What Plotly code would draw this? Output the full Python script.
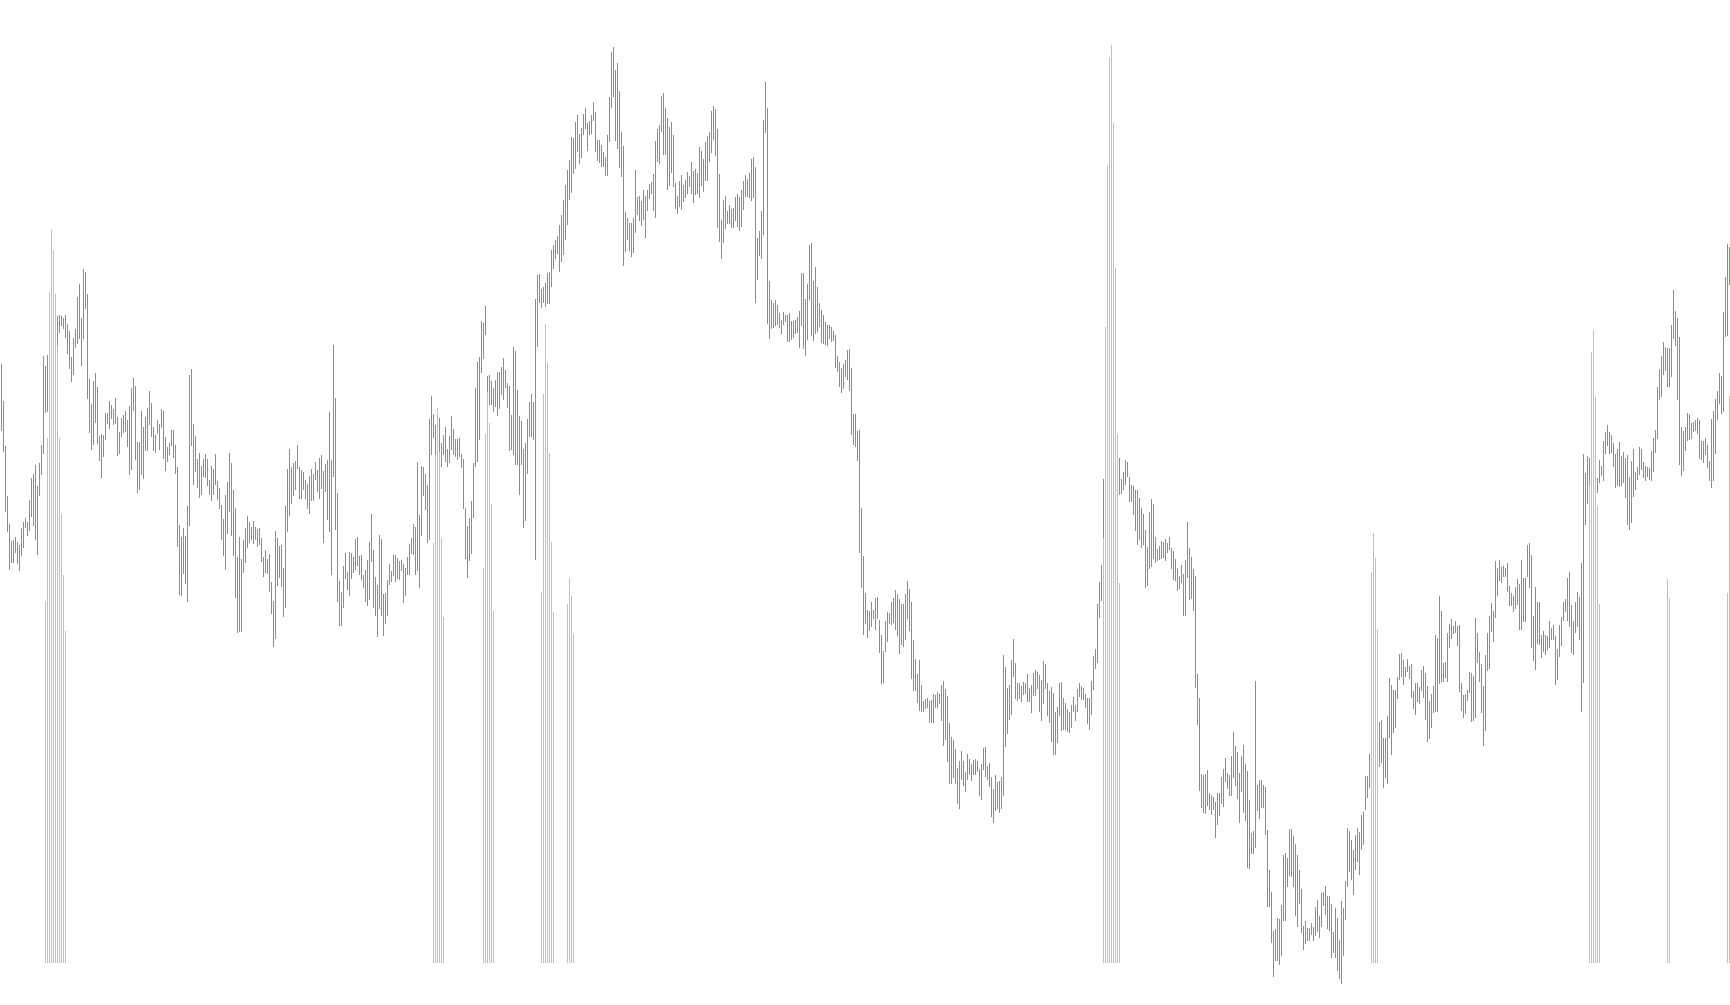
import plotly.graph_objects as go

# Bar range values (vertical scale runs downward: smaller number = higher on chart)
upper = [
364,401,446,496,524,541,540,537,542,545,528,522,518,522,500,478,474,465,486,463,
445,356,366,355,340,320,310,320,316,315,316,318,315,324,331,357,338,329,297,284,
318,269,272,294,379,404,381,373,387,436,434,435,413,413,401,405,409,398,417,432,
418,415,411,420,406,388,378,386,442,442,411,427,417,408,391,403,427,435,420,424,
409,411,437,447,443,430,430,445,467,525,537,528,536,506,375,369,424,436,459,453,
466,459,454,459,480,466,469,454,481,488,505,519,495,482,453,463,490,508,557,537,
559,540,528,516,522,527,521,527,529,528,538,557,550,559,554,582,601,531,538,546,
545,568,506,469,449,467,463,461,445,467,470,472,480,484,476,469,474,462,470,458,
455,471,464,460,412,460,345,398,493,581,592,566,553,572,552,553,557,539,537,556,
555,575,570,560,542,514,550,577,585,535,539,594,593,580,564,571,555,555,558,561,
560,564,568,557,544,538,524,527,462,515,466,467,474,485,419,396,414,425,420,418,
443,435,427,449,436,416,429,439,439,438,454,459,508,526,518,501,463,388,362,357,
321,323,306,376,375,381,388,380,372,372,367,358,370,383,386,415,347,351,390,416,
421,449,443,419,402,394,402,299,275,274,289,287,283,273,272,250,245,240,236,225,
215,200,185,170,160,137,138,122,115,134,128,114,108,123,121,115,102,112,140,140,
145,152,157,135,97,52,47,70,63,91,132,146,212,218,223,223,218,170,197,196,
201,190,196,190,184,182,174,141,129,125,96,93,108,118,127,122,135,183,196,181,
175,185,180,172,176,162,171,169,173,147,151,159,142,136,132,111,106,109,129,174,
220,200,196,211,205,209,208,197,194,197,190,181,175,179,173,159,157,167,238,231,
211,120,82,108,281,300,303,300,305,313,320,312,315,315,313,321,321,320,317,311,
273,273,299,284,245,243,281,267,287,303,310,315,322,325,325,327,331,335,356,362,
368,364,360,350,349,368,414,414,431,430,508,556,593,610,611,602,610,598,597,620,
635,651,621,612,613,602,598,590,594,599,604,604,594,581,589,602,640,659,674,660,
685,701,699,698,701,700,694,695,692,694,685,681,689,696,723,737,740,749,768,761,
751,761,772,754,759,764,760,759,761,769,764,748,747,766,763,777,789,775,782,781,
777,655,667,688,685,660,639,663,683,683,686,682,683,674,688,685,673,670,672,675,
680,661,664,683,691,687,693,712,707,683,682,698,703,709,712,705,697,705,689,683,
686,688,694,698,698,681,656,649,604,582,565,479,480,480,480,480,480,475,470,458,
479,472,460,462,477,485,486,490,490,498,508,514,530,547,512,499,504,537,549,546,
541,542,539,543,537,548,551,559,568,576,565,574,560,522,548,557,569,576,674,698,
774,775,774,770,793,795,797,802,793,793,777,769,758,773,775,756,732,746,752,773,
756,745,764,771,800,833,831,681,785,780,780,785,787,830,870,892,931,929,918,919,
905,855,853,858,829,829,836,844,855,870,889,926,921,928,928,923,927,907,900,916,
893,892,886,896,896,904,932,908,918,940,901,908,881,828,831,840,850,835,828,832,
815,812,776,776,754,740,730,725,730,722,720,738,738,716,678,685,690,690,677,654,
653,660,667,659,666,664,691,683,683,687,670,666,673,686,701,694,686,635,638,596,
611,663,662,633,624,619,626,621,626,625,683,695,694,690,672,673,676,618,633,652,
664,686,655,633,616,603,611,561,568,560,567,566,568,563,586,593,596,587,579,584,
560,578,578,545,543,555,616,587,602,602,635,631,635,636,621,628,625,636,649,625,
617,602,599,578,572,605,621,602,592,597,563,454,473,456,458,460,460,460,478,460,
466,441,432,425,432,435,443,454,449,442,456,452,458,455,477,461,449,472,467,447,
449,462,466,467,468,451,438,430,387,369,356,342,347,348,348,325,290,311,318,337,
427,431,427,413,414,423,422,420,418,420,441,441,438,445,461,419,411,399,391,373,
376,312,277,244,247,
]

lower = [
431,452,512,532,570,563,563,553,564,571,556,548,528,536,531,517,526,540,555,496,
475,454,413,412,400,390,380,370,345,333,326,329,338,354,369,382,375,348,344,339,
366,339,309,399,433,450,445,423,444,461,478,457,440,424,429,419,425,424,456,454,
437,433,432,447,475,470,411,460,493,490,475,479,451,451,425,437,451,453,434,450,
428,459,471,462,455,446,458,474,547,595,596,574,584,602,526,446,485,472,488,498,
495,477,478,486,495,501,495,485,500,509,540,556,570,534,512,536,556,598,633,632,
632,573,563,548,543,540,544,540,547,545,562,577,573,574,592,614,647,639,586,578,
587,617,608,532,516,504,496,490,469,499,499,490,499,509,514,501,501,480,492,499,
489,543,492,520,532,575,477,530,602,626,626,608,579,590,596,579,573,570,566,575,
580,588,602,606,600,562,608,616,637,609,616,636,624,616,585,582,576,582,579,580,
571,603,596,575,575,554,555,575,571,588,536,496,510,543,540,455,438,465,465,452,
467,455,462,467,463,450,455,457,460,457,468,509,559,578,561,554,518,467,462,440,
373,359,335,395,405,405,412,407,416,409,395,400,388,408,451,450,455,465,465,495,
465,528,521,474,437,437,440,560,347,303,308,303,307,304,304,287,269,259,254,272,
262,255,240,225,200,193,174,169,152,164,158,135,129,151,135,134,121,152,161,163,
167,167,176,176,142,108,97,141,149,168,177,266,252,240,251,257,253,233,215,221,
226,220,238,211,199,194,211,218,162,164,132,155,155,190,186,173,187,209,214,207,
210,202,198,194,187,194,203,195,194,198,186,192,181,181,162,153,140,156,228,242,
259,243,229,224,224,228,228,221,227,231,227,210,197,197,198,201,198,303,280,256,
259,235,133,324,339,329,328,326,325,328,334,325,322,342,342,340,338,334,333,348,
326,349,356,340,300,336,341,334,332,327,343,344,345,346,339,342,341,368,372,387,
393,389,377,380,391,435,445,447,461,553,588,635,624,638,631,627,619,630,619,653,
684,683,652,642,624,625,623,630,636,654,645,647,640,619,631,679,691,691,703,711,
712,712,709,708,723,723,723,708,708,704,721,746,740,762,784,784,778,784,804,809,
780,786,792,780,775,781,775,775,772,796,800,770,777,780,787,817,823,811,809,813,
809,796,747,734,720,715,677,699,701,699,702,695,694,702,702,713,696,696,689,712,
721,704,689,716,723,742,755,755,743,716,731,730,730,732,733,728,712,721,712,697,
700,700,708,724,730,715,690,669,663,618,601,538,530,530,530,530,530,530,520,495,
494,490,485,477,502,502,515,531,545,540,548,545,588,586,569,567,559,563,561,560,
559,558,561,553,550,569,580,581,591,589,583,616,616,578,600,599,611,688,725,791,
808,813,814,806,810,815,810,838,825,816,804,807,782,789,796,796,778,786,799,823,
792,813,821,868,869,854,854,848,811,819,808,808,835,907,907,943,977,961,961,965,
956,921,921,887,876,877,887,916,927,904,933,950,944,941,941,935,941,936,932,938,
927,906,915,929,931,958,953,958,971,979,984,956,920,887,872,880,895,870,862,875,
850,845,810,798,788,780,775,770,770,767,763,788,778,784,738,755,733,728,699,680,
677,685,677,672,679,698,709,715,702,704,691,698,720,742,739,728,713,712,712,684,
682,682,678,682,648,639,634,633,646,692,711,718,714,701,693,722,721,718,663,682,
713,746,731,671,669,632,642,618,596,581,583,577,577,592,606,606,612,609,605,630,
630,622,622,577,588,648,661,670,644,645,658,652,655,650,648,640,640,685,680,657,
646,621,612,621,627,653,655,633,627,640,712,683,525,504,485,490,490,490,493,483,
476,481,454,446,454,453,467,488,486,487,486,483,498,525,530,523,497,490,480,475,
470,478,481,477,480,481,472,453,439,400,397,375,371,387,387,377,339,346,400,465,
476,471,451,441,440,439,432,431,434,459,460,463,455,468,481,488,481,454,420,404,
414,412,337,336,285,
]

# Histogram (yellow) bars: bar index and level, rising from the zero level
hist_index = [22,23,24,25,26,27,28,29,30,31,32,
              216,217,218,219,220,221,
              241,242,243,244,245,246,
              270,271,272,273,274,275,276,
              283,284,285,286,
              551,552,553,554,555,556,557,558,559,
              685,686,687,688,
              794,795,796,797,798,799,
              833,834,863,864]
hist_level = [601,438,293,230,250,294,345,438,514,575,631,
              543,454,408,452,538,617,
              568,434,392,423,504,611,
              592,394,324,363,453,542,612,
              604,578,596,634,
              538,327,165,57,45,123,268,434,583,
              572,533,558,630,
              485,352,330,397,506,604,
              579,598,593,396]
hist_zero = 963

n = len(upper)
gx, gy = [], []
for i in range(n):
    gx += [i, i, None]
    gy += [upper[i], lower[i], None]

yx, yy = [], []
for i, v in zip(hist_index, hist_level):
    yx += [i, i, None]
    yy += [hist_zero, v, None]

fig = go.Figure()
fig.add_trace(go.Scatter(x=gx, y=gy, mode="lines",
                         line=dict(color="#00ee00", width=1),
                         hoverinfo="skip", showlegend=False))
fig.add_trace(go.Scatter(x=yx, y=yy, mode="lines",
                         line=dict(color="#f5c810", width=1),
                         hoverinfo="skip", showlegend=False))

fig.update_layout(
    width=1730, height=1005,
    margin=dict(l=0, r=0, t=0, b=0),
    paper_bgcolor="white", plot_bgcolor="white",
    xaxis=dict(visible=False, range=[-0.75, n - 0.75]),
    yaxis=dict(visible=False, range=[1005, 0]),
    hovermode=False,
    showlegend=False,
)

post = (
    "document.body.style.margin='0';"
    "document.body.style.overflow='hidden';"
    "document.querySelectorAll('.scatterlayer path').forEach(function(p){"
    "p.style.shapeRendering='crispEdges';});"
)

fig.write_html("out.html", config={"displayModeBar": False}, post_script=post)
